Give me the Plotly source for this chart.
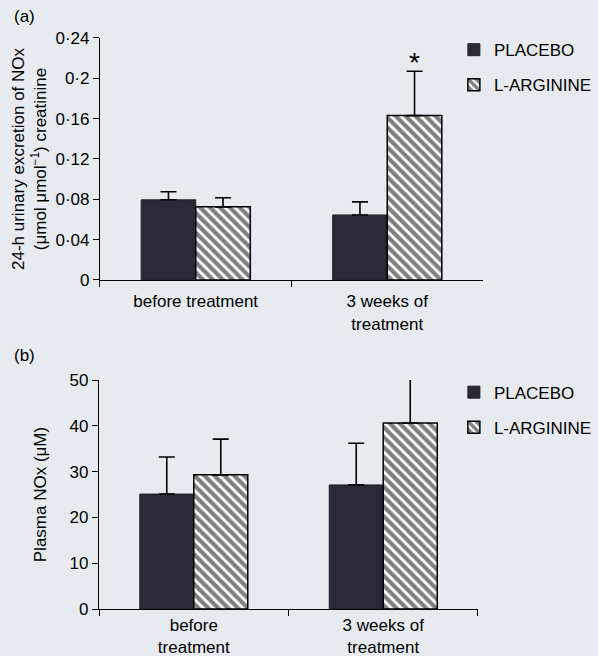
import plotly.graph_objects as go

cats_a = ["before treatment", "3 weeks of<br>treatment"]
cats_b = ["before<br>treatment", "3 weeks of<br>treatment"]
series = ["PLACEBO", "L-ARGININE"]

urine_placebo = [0.0795, 0.0645]
urine_placebo_err = [0.0080, 0.0130]
urine_larg = [0.0725, 0.163]
urine_larg_err = [0.0090, 0.044]

plasma_placebo = [25.1, 27.1]
plasma_placebo_err = [8.1, 9.1]
plasma_larg = [29.3, 40.6]
plasma_larg_err = [7.8, 9.6]

yticks_a = [0, 0.04, 0.08, 0.12, 0.16, 0.2, 0.24]
yticktext_a = ["0", "0·04", "0·08", "0·12", "0·16", "0·2", "0·24"]
yticks_b = [0, 10, 20, 30, 40, 50]

BG = "#e7ebf0"
DARK = "#2a2935"
FONT = "Liberation Sans, Arial, sans-serif"
FS = 17

fig = go.Figure()

def add_pair(cats, pv, pe, lv, le, xa, ya, legend):
    fig.add_trace(go.Bar(
        x=cats, y=pv, name=series[0], xaxis=xa, yaxis=ya, legend=legend,
        legendgroup=legend + "p",
        marker=dict(color=DARK, line=dict(color="#222", width=1)),
        error_y=dict(type="data", array=pe, arrayminus=[0]*len(pe), symmetric=False,
                     color="black", thickness=1.6, width=8),
    ))
    fig.add_trace(go.Bar(
        x=cats, y=lv, name=series[1], xaxis=xa, yaxis=ya, legend=legend,
        legendgroup=legend + "l",
        marker=dict(color="white", line=dict(color="black", width=1.5),
                    pattern=dict(shape="\\", fgcolor="black", bgcolor="white",
                                 size=7, solidity=0.6)),
        error_y=dict(type="data", array=le, arrayminus=[0]*len(le), symmetric=False,
                     color="black", thickness=1.6, width=8),
    ))

add_pair(cats_a, urine_placebo, urine_placebo_err, urine_larg, urine_larg_err, "x", "y", "legend")
add_pair(cats_b, plasma_placebo, plasma_placebo_err, plasma_larg, plasma_larg_err, "x2", "y2", "legend2")

axis_common = dict(showline=True, linecolor="black", linewidth=1.2, ticks="outside",
                   tickcolor="black", ticklen=6, showgrid=False, zeroline=False,
                   automargin=False,
                   tickfont=dict(family=FONT, size=FS, color="black"))

fig.update_layout(
    width=598, height=656,
    margin=dict(l=0, r=0, t=0, b=0, autoexpand=False),
    paper_bgcolor=BG, plot_bgcolor=BG,
    barmode="group", bargap=0.43, bargroupgap=0,
    font=dict(family=FONT, color="black"),
    xaxis=dict(domain=[0.1672, 0.8077], anchor="y", tickson="boundaries",
               ticklabelstandoff=6, **axis_common),
    yaxis=dict(domain=[0.5732, 0.9421], anchor="x", range=[0, 0.24],
               tickvals=yticks_a, ticktext=yticktext_a,
               title=dict(text="24-h urinary excretion of NOx<br>(μmol μmol<sup>−1</sup>) creatinine",
                          font=dict(family=FONT, size=FS), standoff=4),
               **axis_common),
    xaxis2=dict(domain=[0.1656, 0.7993], anchor="y2", tickson="boundaries", **axis_common),
    yaxis2=dict(domain=[0.0716, 0.4207], anchor="x2", range=[0, 50],
                tickvals=yticks_b,
                title=dict(text="Plasma NOx (μM)", font=dict(family=FONT, size=FS), standoff=18),
                **axis_common),
    legend=dict(x=0.759, y=0.951, xanchor="left", yanchor="top", bgcolor="rgba(0,0,0,0)",
                font=dict(family=FONT, size=FS), itemwidth=30, tracegroupgap=10),
    legend2=dict(x=0.759, y=0.429, xanchor="left", yanchor="top", bgcolor="rgba(0,0,0,0)",
                 font=dict(family=FONT, size=FS), itemwidth=30, tracegroupgap=10),
    annotations=[
        dict(text="(a)", x=0.02, y=0.992, xref="paper", yref="paper", xanchor="left",
             yanchor="top", showarrow=False, font=dict(family=FONT, size=FS)),
        dict(text="(b)", x=0.02, y=0.475, xref="paper", yref="paper", xanchor="left",
             yanchor="top", showarrow=False, font=dict(family=FONT, size=FS)),
        dict(text="*", x=cats_a[1], y=urine_larg[1] + urine_larg_err[1], xref="x", yref="y",
             xshift=27, yshift=-9, yanchor="bottom", showarrow=False,
             font=dict(family=FONT, size=28)),
    ],
)

fig.write_html("out.html", config={"displayModeBar": False},
               post_script="document.body.style.margin='0px';")
